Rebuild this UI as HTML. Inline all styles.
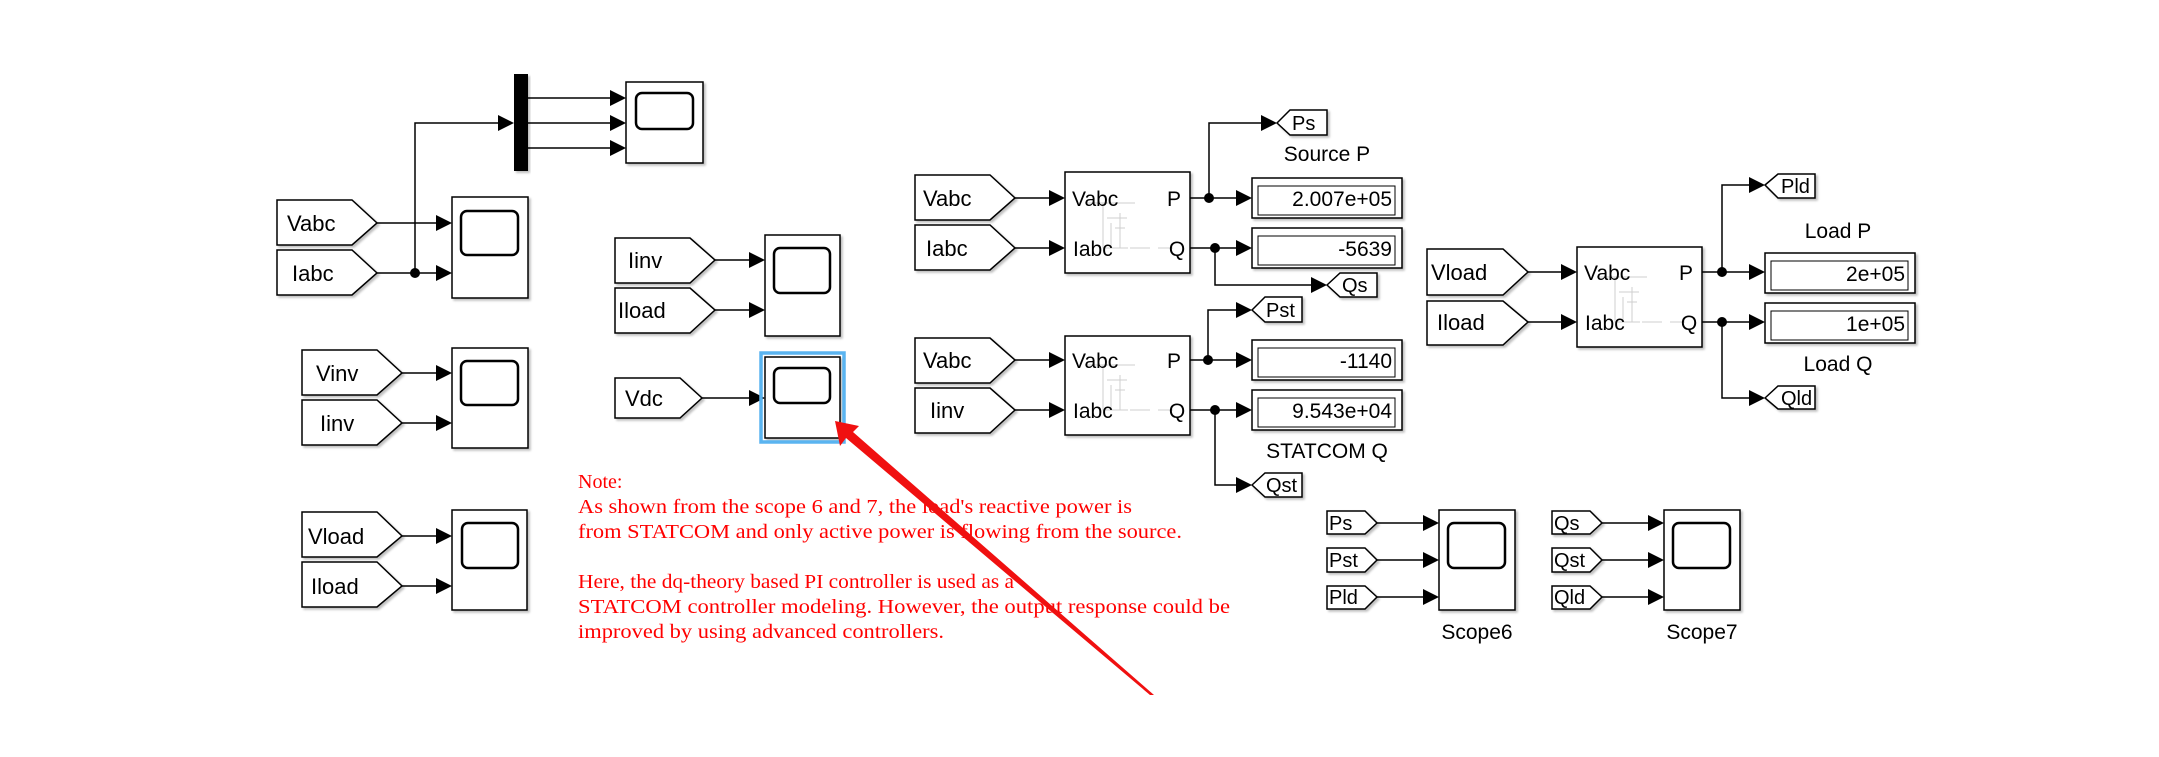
<!DOCTYPE html>
<html><head><meta charset="utf-8"><style>
html,body{margin:0;padding:0;background:#fff;}
svg{display:block;}
text{font-family:"Liberation Sans",Arial,sans-serif;}
.n text{font-family:"Liberation Serif","Times New Roman",serif;fill:#ff0000;font-size:20px;}
</style></head><body>
<svg width="2159" height="757" viewBox="0 0 2159 757" xmlns="http://www.w3.org/2000/svg">
<defs>
<filter id="sh" x="-10%" y="-10%" width="130%" height="130%"><feDropShadow dx="2" dy="2" stdDeviation="1" flood-color="#000" flood-opacity="0.25"/></filter>
<g id="faint">
<path d="M0 0h50M18 0v45h25M35 10v35M22 15h20M26 20v25M30 25h10M45 45h20m8 0h15" stroke="#cfcfcf" stroke-width="1" fill="none"/>
</g>
</defs>
<g stroke="#000" stroke-width="1.5" fill="none">
<path d="M415 273V123H498M528 98H610M528 123H610M528 148H610"/>
<path d="M377 223H436M377 273H436"/>
<path d="M402 373H436M402 423H436M402 536H436M402 586H436"/>
<path d="M715 260H749M715 310H749M702 398H749"/>
<path d="M1015 198H1049M1015 248H1049M1190 198H1236M1209 198V123H1261M1190 248H1236M1215 248V285H1311"/>
<path d="M1015 360H1049M1015 410H1049M1190 360H1236M1208 360V310H1236M1190 410H1236M1215 410V485H1236"/>
<path d="M1528 272H1561M1528 322H1561M1702 272H1749M1722 272V185H1749M1702 322H1749M1722 322V398H1749"/>
<path d="M1377 523H1423M1377 560H1423M1377 597H1423M1602 523H1648M1602 560H1648M1602 597H1648"/>
</g>
<g fill="#000">
<path d="M498 115L514 123L498 131Z"/>
<path d="M610 90L626 98L610 106ZM610 115L626 123L610 131ZM610 140L626 148L610 156Z"/>
<path d="M436 215L452 223L436 231ZM436 265L452 273L436 281Z"/>
<path d="M436 365L452 373L436 381ZM436 415L452 423L436 431ZM436 528L452 536L436 544ZM436 578L452 586L436 594Z"/>
<path d="M749 252L765 260L749 268ZM749 302L765 310L749 318ZM749 390L765 398L749 406Z"/>
<path d="M1049 190L1065 198L1049 206ZM1049 240L1065 248L1049 256ZM1236 190L1252 198L1236 206ZM1236 240L1252 248L1236 256ZM1261 115L1277 123L1261 131ZM1311 277L1327 285L1311 293Z"/>
<path d="M1049 352L1065 360L1049 368ZM1049 402L1065 410L1049 418ZM1236 352L1252 360L1236 368ZM1236 402L1252 410L1236 418ZM1236 302L1252 310L1236 318ZM1236 477L1252 485L1236 493Z"/>
<path d="M1561 264L1577 272L1561 280ZM1561 314L1577 322L1561 330ZM1749 264L1765 272L1749 280ZM1749 314L1765 322L1749 330ZM1749 177L1765 185L1749 193ZM1749 390L1765 398L1749 406Z"/>
<path d="M1423 515L1439 523L1423 531ZM1423 552L1439 560L1423 568ZM1423 589L1439 597L1423 605ZM1648 515L1664 523L1648 531ZM1648 552L1664 560L1648 568ZM1648 589L1664 597L1648 605Z"/>
<circle cx="415" cy="273" r="5"/>
<circle cx="1209" cy="198" r="5"/><circle cx="1215" cy="248" r="5"/>
<circle cx="1208" cy="360" r="5"/><circle cx="1215" cy="410" r="5"/>
<circle cx="1722" cy="272" r="5"/><circle cx="1722" cy="322" r="5"/>
<rect x="514" y="74" width="14" height="97" filter="url(#sh)"/>
</g>
<g fill="#fff" stroke="#000" stroke-width="1.5" filter="url(#sh)">
<rect x="626" y="82" width="77" height="81"/>
<rect x="452" y="197" width="76" height="101"/>
<rect x="452" y="348" width="76" height="100"/>
<rect x="452" y="510" width="75" height="100"/>
<rect x="765" y="235" width="75" height="101"/>
<rect x="765" y="357" width="75" height="81"/>
<rect x="1439" y="510" width="76" height="100"/>
<rect x="1664" y="510" width="76" height="100"/>
<rect x="1065" y="172" width="125" height="101"/>
<rect x="1065" y="336" width="125" height="99"/>
<rect x="1577" y="247" width="125" height="100"/>
<rect x="1252" y="178" width="150" height="40"/>
<rect x="1252" y="228" width="150" height="40"/>
<rect x="1252" y="340" width="150" height="40"/>
<rect x="1252" y="390" width="150" height="40"/>
<rect x="1765" y="253" width="150" height="40"/>
<rect x="1765" y="303" width="150" height="40"/>
</g>
<rect x="761" y="353" width="83" height="89" fill="none" stroke="#5ab4f0" stroke-width="3.5"/>
<g fill="none" stroke="#000" stroke-width="2.5">
<rect x="636" y="93" width="57" height="36" rx="6"/>
<rect x="461" y="211" width="57" height="44" rx="6"/>
<rect x="461" y="361" width="57" height="44" rx="6"/>
<rect x="462" y="523" width="56" height="45" rx="6"/>
<rect x="774" y="248" width="56" height="45" rx="6"/>
<rect x="774" y="368" width="56" height="35" rx="6"/>
<rect x="1448" y="523" width="57" height="45" rx="6"/>
<rect x="1673" y="523" width="57" height="45" rx="6"/>
</g>
<g fill="none" stroke="#000" stroke-width="1">
<rect x="1258" y="186" width="137" height="29"/><rect x="1258" y="236" width="137" height="29"/>
<rect x="1258" y="348" width="137" height="29"/><rect x="1258" y="398" width="137" height="29"/>
<rect x="1771" y="261" width="137" height="29"/><rect x="1771" y="311" width="137" height="29"/>
</g>
<use href="#faint" x="1085" y="203"/><use href="#faint" x="1085" y="365"/><use href="#faint" x="1597" y="277"/>
<g fill="#fff" stroke="#000" stroke-width="1.5" filter="url(#sh)">
<path d="M277 200H352L377 223L352 245H277Z"/>
<path d="M277 250H352L377 273L352 295H277Z"/>
<path d="M302 350H377L402 373L377 395H302Z"/>
<path d="M302 400H377L402 423L377 445H302Z"/>
<path d="M302 512H377L402 536L377 557H302Z"/>
<path d="M302 562H377L402 586L377 607H302Z"/>
<path d="M615 238H690L715 260L690 283H615Z"/>
<path d="M615 288H690L715 310L690 333H615Z"/>
<path d="M615 378H680L702 398L680 418H615Z"/>
<path d="M915 175H990L1015 198L990 220H915Z"/>
<path d="M915 225H990L1015 248L990 270H915Z"/>
<path d="M915 338H990L1015 360L990 383H915Z"/>
<path d="M915 388H990L1015 410L990 433H915Z"/>
<path d="M1427 249H1503L1528 272L1503 295H1427Z"/>
<path d="M1427 301H1503L1528 322L1503 345H1427Z"/>
<path d="M1327 511H1365L1377 523L1365 534H1327Z"/>
<path d="M1327 548H1365L1377 560L1365 572H1327Z"/>
<path d="M1327 586H1365L1377 597L1365 609H1327Z"/>
<path d="M1552 511H1590L1602 523L1590 534H1552Z"/>
<path d="M1552 548H1590L1602 560L1590 572H1552Z"/>
<path d="M1552 586H1590L1602 597L1590 609H1552Z"/>
<path d="M1277 123L1290 110H1327V135H1290Z"/>
<path d="M1327 285L1340 273H1377V297H1340Z"/>
<path d="M1252 310L1265 297H1302V322H1265Z"/>
<path d="M1252 485L1265 473H1302V497H1265Z"/>
<path d="M1765 185L1778 174H1815V198H1778Z"/>
<path d="M1765 398L1778 386H1815V409H1778Z"/>
</g>
<g font-size="22" fill="#000">
<text x="287" y="231">Vabc</text><text x="292" y="281">Iabc</text>
<text x="316" y="381">Vinv</text><text x="320" y="431">Iinv</text>
<text x="308" y="544">Vload</text><text x="311" y="594">Iload</text>
<text x="628" y="268">Iinv</text><text x="618" y="318">Iload</text>
<text x="625" y="406">Vdc</text>
<text x="923" y="206">Vabc</text><text x="926" y="256">Iabc</text>
<text x="923" y="368">Vabc</text><text x="930" y="418">Iinv</text>
<text x="1431" y="280">Vload</text><text x="1437" y="330">Iload</text>
</g>
<g font-size="21" fill="#000">
<text x="1072" y="206">Vabc</text><text x="1073" y="256">Iabc</text><text x="1174" y="206" text-anchor="middle">P</text><text x="1177" y="256" text-anchor="middle">Q</text>
<text x="1072" y="368">Vabc</text><text x="1073" y="418">Iabc</text><text x="1174" y="368" text-anchor="middle">P</text><text x="1177" y="418" text-anchor="middle">Q</text>
<text x="1584" y="280">Vabc</text><text x="1585" y="330">Iabc</text><text x="1686" y="280" text-anchor="middle">P</text><text x="1689" y="330" text-anchor="middle">Q</text>
</g>
<g font-size="21" fill="#000" text-anchor="end">
<text x="1392" y="206">2.007e+05</text><text x="1392" y="256">-5639</text>
<text x="1392" y="368">-1140</text><text x="1392" y="418">9.543e+04</text>
<text x="1905" y="281">2e+05</text><text x="1905" y="331">1e+05</text>
</g>
<g font-size="20" fill="#000">
<text x="1292" y="130">Ps</text><text x="1342" y="292">Qs</text>
<text x="1266" y="317">Pst</text><text x="1266" y="492">Qst</text>
<text x="1781" y="193">Pld</text><text x="1781" y="405">Qld</text>
<text x="1329" y="530">Ps</text><text x="1329" y="567">Pst</text><text x="1329" y="604">Pld</text>
<text x="1554" y="530">Qs</text><text x="1554" y="567">Qst</text><text x="1554" y="604">Qld</text>
</g>
<g font-size="21" fill="#000" text-anchor="middle">
<text x="1327" y="161">Source P</text>
<text x="1327" y="458">STATCOM Q</text>
<text x="1838" y="238">Load P</text>
<text x="1838" y="371">Load Q</text>
<text x="1477" y="639">Scope6</text>
<text x="1702" y="639">Scope7</text>
</g>
<g class="n">
<text x="578" y="488">Note:</text>
<text x="578" y="513" textLength="554" lengthAdjust="spacingAndGlyphs">As shown from the scope 6 and 7, the load's reactive power is</text>
<text x="578" y="538" textLength="604" lengthAdjust="spacingAndGlyphs">from STATCOM and only active power is flowing from the source.</text>
<text x="578" y="588" textLength="436" lengthAdjust="spacingAndGlyphs">Here, the dq-theory based PI controller is used as a</text>
<text x="578" y="613" textLength="652" lengthAdjust="spacingAndGlyphs">STATCOM controller modeling. However, the output response could be</text>
<text x="578" y="638" textLength="366" lengthAdjust="spacingAndGlyphs">improved by using advanced controllers.</text>
</g>
<path d="M835 421L859 426L853 432L1154 695L1150 695L846 438L840 446Z" fill="#f01010"/>
</svg>
</body></html>
